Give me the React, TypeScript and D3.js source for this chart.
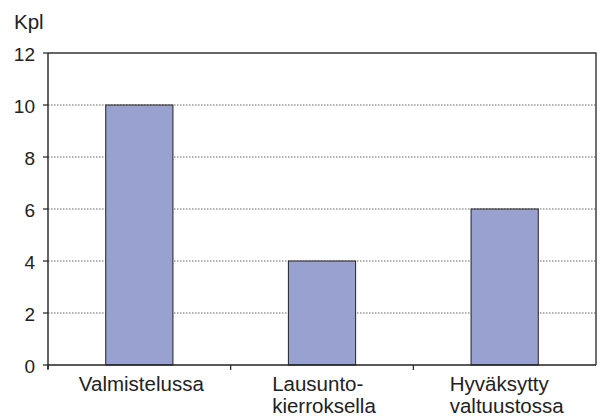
import React, { useEffect, useRef } from "react";
import * as d3 from "d3";

const categories: string[][] = [["Valmistelussa"], ["Lausunto-", "kierroksella"], ["Hyväksytty", "valtuustossa"]];
const values: number[] = [10, 4, 6];
const yTicks: number[] = [0, 2, 4, 6, 8, 10, 12];
const yLabel = "Kpl";

const W = 600;
const H = 416;
const M = { left: 48, right: 596, top: 53, bottom: 365 };
const FONT = "'Liberation Sans', Arial, sans-serif";

export default function App() {
  const ref = useRef<SVGSVGElement | null>(null);

  useEffect(() => {
    const svg = d3.select(ref.current);
    svg.selectAll("*").remove();

    const keys = categories.map((c, i) => String(i));
    const x = d3.scaleBand<string>().domain(keys).range([M.left, M.right]).paddingInner(0.632).paddingOuter(0.316);
    const y = d3.scaleLinear().domain([0, 12]).range([M.bottom, M.top]);
    const step = x.step();
    const band0 = M.left;

    // gridlines
    svg.append("g")
      .selectAll("line")
      .data(yTicks.filter((t) => t > 0 && t < 12))
      .join("line")
      .attr("x1", M.left).attr("x2", M.right)
      .attr("y1", (d) => y(d)).attr("y2", (d) => y(d))
      .attr("stroke", "#666").attr("stroke-width", 1)
      .attr("stroke-dasharray", "1.5,1.5");

    // bars
    svg.append("g")
      .selectAll("rect")
      .data(values)
      .join("rect")
      .attr("x", (d, i) => x(String(i))!)
      .attr("y", (d) => y(d))
      .attr("width", x.bandwidth())
      .attr("height", (d) => y(0) - y(d))
      .attr("fill", "#99A1D1")
      .attr("stroke", "#222")
      .attr("stroke-width", 1);

    // frame top & right
    svg.append("path")
      .attr("d", `M${M.left},${M.top}H${M.right}V${M.bottom}`)
      .attr("fill", "none").attr("stroke", "#333").attr("stroke-width", 1.4);

    // y axis
    const gy = svg.append("g");
    gy.append("line").attr("x1", M.left).attr("x2", M.left).attr("y1", M.top).attr("y2", M.bottom + 4)
      .attr("stroke", "#222").attr("stroke-width", 1.4);
    gy.selectAll("line.tick").data(yTicks).join("line").attr("class", "tick")
      .attr("x1", M.left - 5).attr("x2", M.left)
      .attr("y1", (d) => y(d)).attr("y2", (d) => y(d))
      .attr("stroke", "#222").attr("stroke-width", 1.2);
    gy.selectAll("text").data(yTicks).join("text")
      .attr("x", 35).attr("y", (d) => y(d) + 7.5)
      .attr("text-anchor", "end")
      .attr("font-family", FONT).attr("font-size", 19).attr("fill", "#222")
      .text((d) => String(d));

    // x axis
    const gx = svg.append("g");
    gx.append("line").attr("x1", M.left).attr("x2", M.right).attr("y1", M.bottom).attr("y2", M.bottom)
      .attr("stroke", "#222").attr("stroke-width", 1.4);
    gx.selectAll("line.tick").data([0, 1, 2]).join("line").attr("class", "tick")
      .attr("x1", (d) => band0 + d * step).attr("x2", (d) => band0 + d * step)
      .attr("y1", M.bottom).attr("y2", M.bottom + 5)
      .attr("stroke", "#222").attr("stroke-width", 1.2);

    categories.forEach((lines, i) => {
      const cx = x(String(i))! + x.bandwidth() / 2 + 2;
      const spans = lines.map((l, j) =>
        gx.append("text")
          .attr("font-family", FONT).attr("font-size", 20.5).attr("fill", "#222")
          .attr("y", 391 + j * 22).text(l)
      );
      const widths = spans.map((s) => (s.node() as SVGTextElement).getComputedTextLength());
      const maxW = d3.max(widths) || 0;
      spans.forEach((s) => s.attr("x", cx - maxW / 2));
    });

    // y label
    svg.append("text").attr("x", 14).attr("y", 29)
      .attr("font-family", FONT).attr("font-size", 20.5).attr("fill", "#222")
      .text(yLabel);
  }, []);

  return (
    <svg
      ref={ref}
      width={W}
      height={H}
      style={{ position: "absolute", left: 0, top: 0, background: "#fff" }}
    />
  );
}
